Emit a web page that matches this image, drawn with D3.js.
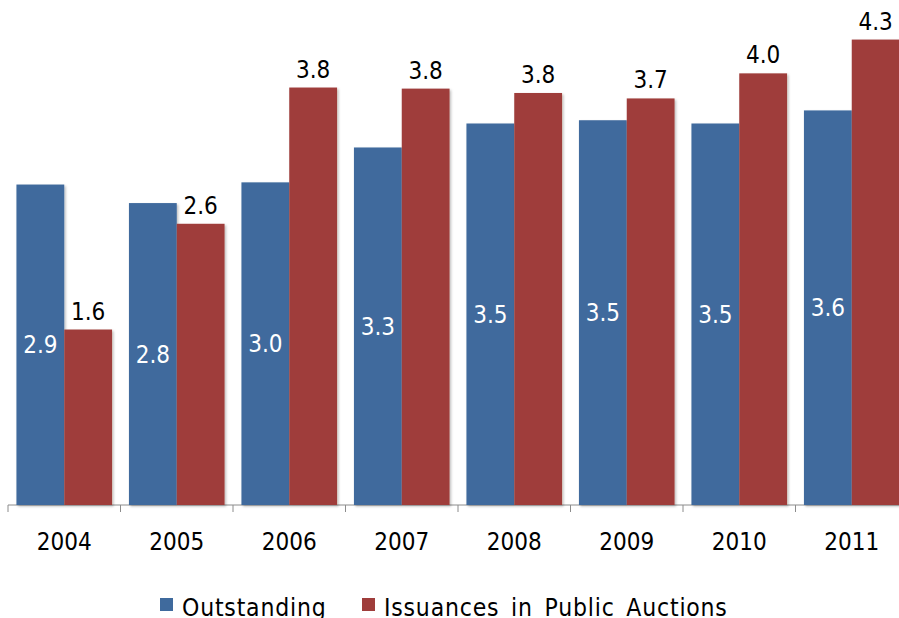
<!DOCTYPE html>
<html>
<head>
<meta charset="utf-8">
<script src="https://cdn.jsdelivr.net/npm/d3@7"></script>
<style>
  body { margin: 0; background: #fff; }
  text { font-family: "DejaVu Sans Condensed", "DejaVu Sans", sans-serif; }
</style>
</head>
<body>
<div id="chart"></div>
<script>
const years = ['2004', '2005', '2006', '2007', '2008', '2009', '2010', '2011'];
const outstanding = [2.94, 2.77, 2.96, 3.28, 3.50, 3.53, 3.50, 3.62];
const issuances = [1.61, 2.58, 3.83, 3.82, 3.78, 3.73, 3.96, 4.27];
const seriesNames = ['Outstanding', 'Issuances in Public Auctions'];
const colors = ['#3f6a9d', '#9f3d3b'];

const w = 899;
const h = 618;
const base = 505;
const left = 8;
const step = 112.5;

const svg = d3.select('#chart').
append('svg').
attr('width', w).
attr('height', h);

const defs = svg.append('defs');
const f = defs.append('filter').attr('id', 'shadow').
attr('x', '-10%').attr('y', '-10%').attr('width', '130%').attr('height', '130%');
f.append('feDropShadow').attr('dx', 1.5).attr('dy', 1.5).
attr('stdDeviation', 1.2).attr('flood-color', '#000').attr('flood-opacity', 0.25);

const xScale = d3.scaleBand().
domain(years).
range([left, left + step * years.length]).
paddingInner(0.15).
paddingOuter(0.075);

const xSub = d3.scaleBand().
domain([0, 1]).
range([0, xScale.bandwidth()]);

const yScale = d3.scaleLinear().
domain([0, 4.5]).
range([base, base - 4.5 * 109]);

const fmt = d3.format('.1f');

// axis line with ticks at category boundaries
const axis = svg.append('g').attr('transform', 'translate(0,' + base + ')');
axis.append('line').
attr('x1', left).attr('x2', w).
attr('stroke', '#8c8c8c').attr('stroke-width', 1);
axis.selectAll('line.tick').
data(d3.range(years.length + 1)).
enter().
append('line').
attr('class', 'tick').
attr('x1', d => left + d * step).
attr('x2', d => left + d * step).
attr('y1', 0).attr('y2', 7).
attr('stroke', '#8c8c8c');

const groups = svg.selectAll('g.year').
data(years).
enter().
append('g').
attr('class', 'year').
attr('transform', d => 'translate(' + xScale(d) + ',0)');

groups.append('rect').
attr('x', xSub(0)).
attr('width', xSub.bandwidth()).
attr('y', (d, i) => yScale(outstanding[i])).
attr('height', (d, i) => base - yScale(outstanding[i])).
attr('fill', colors[0]).
attr('filter', 'url(#shadow)');

groups.append('rect').
attr('x', xSub(1)).
attr('width', xSub.bandwidth()).
attr('y', (d, i) => yScale(issuances[i])).
attr('height', (d, i) => base - yScale(issuances[i])).
attr('fill', colors[1]).
attr('filter', 'url(#shadow)');

// values
groups.append('text').
attr('x', xSub(0) + xSub.bandwidth() / 2).
attr('y', (d, i) => (yScale(outstanding[i]) + base) / 2).
attr('dy', '0.36em').
attr('text-anchor', 'middle').
attr('fill', '#fff').
style('font-size', '24px').
text((d, i) => fmt(outstanding[i]));

groups.append('text').
attr('x', xSub(1) + xSub.bandwidth() / 2).
attr('y', (d, i) => yScale(issuances[i]) - 10).
attr('text-anchor', 'middle').
attr('fill', '#000').
style('font-size', '24px').
text((d, i) => fmt(issuances[i]));

// category labels
groups.append('text').
attr('x', xScale.bandwidth() / 2).
attr('y', 550).
attr('text-anchor', 'middle').
attr('fill', '#000').
style('font-size', '24px').
text(d => d);

// legend
const legendX = [160, 362];
const legend = svg.selectAll('g.legend').
data(seriesNames).
enter().
append('g').
attr('class', 'legend').
attr('transform', (d, i) => 'translate(' + legendX[i] + ',0)');

legend.append('rect').
attr('x', 0).attr('y', 598).
attr('width', 13).attr('height', 13).
attr('fill', (d, i) => colors[i]);

legend.append('text').
attr('x', 22).
attr('y', 616).
attr('fill', '#000').
style('font-size', '24.5px').
style('letter-spacing', '0.8px').
style('word-spacing', '4px').
text(d => d);
</script>
</body>
</html>
